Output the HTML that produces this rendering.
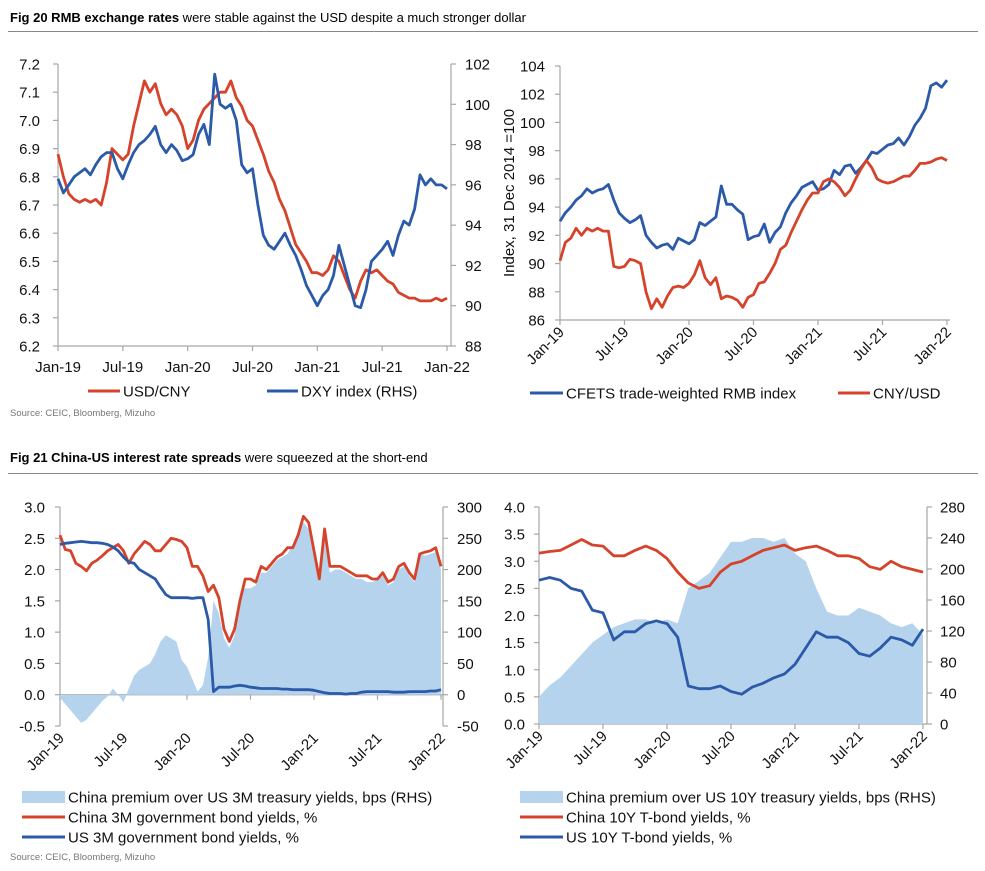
<!DOCTYPE html>
<html><head><meta charset="utf-8"><style>
body{margin:0;background:#fff}
svg{display:block;font-family:"Liberation Sans",Arial,sans-serif}
</style></head><body>
<svg id="s" width="985" height="871" viewBox="0 0 985 871">
<text x="10" y="22" font-size="13" fill="#000"><tspan font-weight="bold">Fig 20  RMB exchange rates</tspan> were stable against the USD despite a much stronger dollar</text>
<line x1="8" y1="31.5" x2="978" y2="31.5" stroke="#888" stroke-width="1"/>
<text x="10" y="416" font-size="9.5" fill="#777">Source: CEIC, Bloomberg, Mizuho</text>
<text x="10" y="462" font-size="13" fill="#000"><tspan font-weight="bold">Fig 21  China-US interest rate spreads</tspan> were squeezed at the short-end</text>
<line x1="8" y1="473.5" x2="978" y2="473.5" stroke="#888" stroke-width="1"/>
<text x="10" y="860" font-size="9.5" fill="#777">Source: CEIC, Bloomberg, Mizuho</text>
</svg>
<script>
// ---- data (t in months from Jan-19) ----
const dateLabels = ["Jan-19","Jul-19","Jan-20","Jul-20","Jan-21","Jul-21","Jan-22"];
const dateTicks = [0,6,12,18,24,30,36];
const tSemi = Array.from({length:73},(_,i)=>i*0.5);
const tMonth = Array.from({length:37},(_,i)=>i);

const usdCny = [6.88,6.80,6.74,6.72,6.71,6.72,6.71,6.72,6.70,6.78,6.90,6.88,6.86,6.88,6.98,7.06,7.14,7.10,7.13,7.06,7.02,7.04,7.02,6.98,6.90,6.93,7.00,7.04,7.06,7.08,7.10,7.10,7.14,7.08,7.05,7.00,6.98,6.93,6.88,6.82,6.78,6.72,6.68,6.62,6.56,6.53,6.50,6.46,6.46,6.45,6.47,6.52,6.50,6.45,6.40,6.37,6.43,6.47,6.46,6.47,6.45,6.43,6.42,6.39,6.38,6.37,6.37,6.36,6.36,6.36,6.37,6.36,6.37];
const dxy = [96.3,95.6,96.0,96.4,96.6,96.8,96.5,97.0,97.4,97.6,97.6,96.8,96.3,97.0,97.6,98.0,98.2,98.5,98.9,98.0,97.6,98.0,97.7,97.2,97.3,97.5,98.5,99.0,98.0,101.5,100.0,99.8,100.0,99.2,97.0,96.6,96.8,95.0,93.5,93.0,92.8,93.2,93.6,93.0,92.5,91.8,91.0,90.5,90.0,90.5,90.8,91.5,93.0,92.0,91.0,90.0,89.9,90.8,92.2,92.5,92.8,93.2,92.5,93.5,94.2,94.0,94.8,96.5,96.0,96.3,96.0,96.0,95.8];
const cfets = [93.0,93.6,94.0,94.5,94.8,95.3,95.0,95.2,95.3,95.6,94.5,93.6,93.2,92.9,93.1,93.4,92.0,91.5,91.1,91.3,91.4,91.0,91.8,91.6,91.4,91.7,92.9,92.7,93.0,93.3,95.5,94.2,94.2,93.8,93.5,91.7,91.9,92.0,92.8,91.5,92.2,92.6,93.6,94.3,94.8,95.4,95.6,95.8,95.2,95.3,95.6,96.6,96.3,96.9,97.0,96.4,96.8,97.3,97.9,97.8,98.1,98.4,98.5,98.9,98.4,99.0,99.8,100.3,101.0,102.6,102.8,102.5,103.0];
const cnyUsd = [90.2,91.5,91.8,92.5,92.0,92.5,92.3,92.5,92.3,92.3,89.8,89.7,89.8,90.3,90.2,90.0,88.0,86.8,87.5,86.9,87.7,88.3,88.4,88.3,88.6,89.2,90.2,89.0,88.5,89.0,87.5,87.7,87.6,87.4,86.9,87.6,87.8,88.6,88.7,89.3,90.0,91.0,91.3,92.2,93.0,93.8,94.5,95.0,95.0,95.8,96.0,95.8,95.4,94.8,95.2,96.0,96.7,97.3,96.8,96.0,95.8,95.7,95.8,96.0,96.2,96.2,96.6,97.1,97.1,97.2,97.4,97.5,97.3];

const prem3m = [-5,-15,-25,-35,-45,-40,-30,-20,-10,-3,10,0,-12,10,30,40,45,50,65,85,95,90,85,55,45,25,5,15,60,150,130,90,75,95,160,170,170,175,195,195,205,215,220,225,240,255,275,265,225,180,255,195,200,200,195,190,185,185,180,180,185,190,175,180,200,205,190,180,225,222,225,228,200];
const cn3m = [2.55,2.32,2.30,2.10,2.05,1.98,2.10,2.15,2.22,2.30,2.35,2.40,2.30,2.10,2.25,2.35,2.45,2.40,2.30,2.30,2.40,2.50,2.48,2.45,2.35,2.05,2.05,1.90,1.65,1.75,1.55,1.05,0.85,1.05,1.50,1.85,1.85,1.80,2.05,2.00,2.10,2.20,2.25,2.35,2.35,2.55,2.85,2.75,2.30,1.85,2.65,2.05,2.05,2.05,2.00,1.95,1.90,1.90,1.90,1.85,1.85,1.95,1.80,1.85,2.05,2.10,1.95,1.85,2.25,2.28,2.30,2.35,2.05];
const us3m = [2.40,2.42,2.43,2.44,2.45,2.44,2.43,2.43,2.42,2.40,2.36,2.30,2.20,2.12,2.10,2.00,1.95,1.90,1.85,1.72,1.60,1.55,1.55,1.55,1.55,1.54,1.55,1.55,1.20,0.05,0.12,0.12,0.12,0.14,0.15,0.14,0.12,0.11,0.10,0.10,0.10,0.10,0.09,0.09,0.08,0.08,0.08,0.08,0.07,0.05,0.03,0.02,0.02,0.02,0.01,0.02,0.02,0.04,0.05,0.05,0.05,0.05,0.05,0.04,0.04,0.04,0.05,0.05,0.05,0.05,0.06,0.06,0.08];

const prem10y = [35,50,60,75,90,105,115,125,130,135,135,130,135,130,175,185,195,215,235,235,240,240,235,240,220,210,175,145,140,140,150,145,140,130,125,130,115];
const cn10y = [3.15,3.18,3.2,3.3,3.4,3.3,3.28,3.1,3.1,3.2,3.28,3.2,3.05,2.8,2.6,2.5,2.55,2.8,2.95,3.0,3.1,3.2,3.25,3.3,3.2,3.25,3.28,3.2,3.1,3.1,3.05,2.9,2.85,3.0,2.9,2.85,2.8];
const us10y = [2.65,2.7,2.65,2.5,2.45,2.1,2.05,1.55,1.7,1.7,1.85,1.9,1.85,1.6,0.7,0.65,0.65,0.7,0.6,0.55,0.68,0.75,0.85,0.92,1.1,1.4,1.7,1.6,1.6,1.5,1.3,1.25,1.4,1.6,1.55,1.45,1.75];

const RED="#d6432b", BLUE="#2b5aa8", AREA="#b5d3ec", AX="#a6a6a6";
const svg=document.getElementById('s');
const NS="http://www.w3.org/2000/svg";
function el(tag,attrs){const e=document.createElementNS(NS,tag);for(const k in attrs)e.setAttribute(k,attrs[k]);svg.appendChild(e);return e;}

function panel(p){
  const sx=t=>p.x0+(t/36)*(p.x1-p.x0);
  const sy=v=>p.yB-(v-p.lmin)/(p.lmax-p.lmin)*(p.yB-p.yT);
  const sr=v=>p.yB-(v-p.rmin)/(p.rmax-p.rmin)*(p.yB-p.yT);
  p.sx=sx;p.sy=sy;p.sr=sr;
  let a=el('line',{x1:p.x0,y1:p.yT,x2:p.x0,y2:p.yB,stroke:AX,'stroke-width':1.2});
  
  
  for(let v=p.lmin;v<=p.lmax+1e-9;v+=p.lstep){
    const y=sy(v);
    const tk=el('line',{x1:p.x0-5,y1:y,x2:p.x0,y2:y,stroke:AX,'stroke-width':1.2});
    
    
    const tx=el('text',{x:p.lx,y:y+5.5,'font-size':15,'text-anchor':'end',fill:'#111'});
    tx.textContent=v.toFixed(p.ldec);
    
    
  }
  if(p.rx!==undefined){
    let r=el('line',{x1:p.rax,y1:p.yT,x2:p.rax,y2:p.yB,stroke:AX,'stroke-width':1.2});
    
    
    for(let v=p.rmin;v<=p.rmax+1e-9;v+=p.rstep){
      const y=sr(v);
      const tk=el('line',{x1:p.rax,y1:y,x2:p.rax+5,y2:y,stroke:AX,'stroke-width':1.2});
      
      
      const tx=el('text',{x:p.rx,y:y+5.5,'font-size':15,fill:'#111'});
      tx.textContent=String(Math.round(v));
      
      
    }
  }
  const base=p.zeroLine?sy(0):p.yB;
  let b=el('line',{x1:p.x0,y1:base,x2:p.bx1,y2:base,stroke:AX,'stroke-width':1.2});
  
  
  dateTicks.forEach((t,i)=>{
    const x=sx(t);
    const tk=el('line',{x1:x,y1:base,x2:x,y2:base+5,stroke:AX,'stroke-width':1.2});
    
    
    let tx;
    if(p.rot){
      tx=el('text',{x:x+5,y:p.yB+13,'font-size':15,'text-anchor':'end',fill:'#111',transform:`rotate(-45 ${x+5} ${p.yB+13})`});
    }else{
      tx=el('text',{x:x,y:p.yB+26,'font-size':15,'text-anchor':'middle',fill:'#111'});
    }
    tx.textContent=dateLabels[i];
    
    
  });
}
function line(p,ts,vs,scale,color,name){
  const d=vs.map((v,i)=>(i?'L':'M')+p.sx(ts[i]).toFixed(1)+' '+scale(v).toFixed(1)).join(' ');
  const e=el('path',{d:d,fill:'none',stroke:color,'stroke-width':2.8,'stroke-linejoin':'round'});
  
  
}
function area(p,ts,vs,name){
  const z=p.sr(0);
  let d='M'+p.sx(ts[0]).toFixed(1)+' '+z.toFixed(1);
  vs.forEach((v,i)=>{d+=' L'+p.sx(ts[i]).toFixed(1)+' '+p.sr(v).toFixed(1);});
  d+=' L'+p.sx(ts[ts.length-1]).toFixed(1)+' '+z.toFixed(1)+' Z';
  const e=el('path',{d:d,fill:AREA,stroke:'none'});
  
  
}
function legLine(x1,x2,y,color,label,name){
  const l=el('line',{x1:x1,y1:y,x2:x2,y2:y,stroke:color,'stroke-width':3});
  
  
  const t=el('text',{x:x2+3,y:y+5.5,'font-size':15,fill:'#111'});
  t.textContent=label;
  
  
}
function legBox(x1,x2,y,label,name){
  const r=el('rect',{x:x1,y:y-6,width:x2-x1,height:12,fill:AREA});
  
  
  const t=el('text',{x:x2+3,y:y+5.5,'font-size':15,fill:'#111'});
  t.textContent=label;
  
  
}

const p1={id:'usdcny-panel',x0:58,x1:447,bx1:451,yT:64,yB:346,lmin:6.2,lmax:7.2,lstep:0.1,ldec:1,lx:40,rmin:88,rmax:102,rstep:2,rx:465,rax:451,rot:false};
panel(p1);
line(p1,tSemi,usdCny,p1.sy,RED,'usdcny-line');
line(p1,tSemi,dxy,p1.sr,BLUE,'dxy-line');
legLine(88,120,391,RED,'USD/CNY','legend-usdcny');
legLine(267,298,391,BLUE,'DXY index (RHS)','legend-dxy');

const p2={id:'cfets-panel',x0:560,x1:947,bx1:950,yT:66,yB:320,lmin:86,lmax:104,lstep:2,ldec:0,lx:545,rot:true};
panel(p2);
line(p2,tSemi,cfets,p2.sy,BLUE,'cfets-line');
line(p2,tSemi,cnyUsd,p2.sy,RED,'cnyusd-line');
const yt=el('text',{x:0,y:0,'font-size':15,'text-anchor':'middle',fill:'#111',transform:'translate(514 193) rotate(-90)'});
yt.textContent='Index, 31 Dec 2014 =100';


legLine(530,563,393,BLUE,'CFETS trade-weighted RMB index','legend-cfets');
legLine(838,870,393,RED,'CNY/USD','legend-cnyusd');

const p3={id:'spread3m-panel',x0:60,x1:441,bx1:443,yT:507,yB:726,lmin:-0.5,lmax:3.0,lstep:0.5,ldec:1,lx:45,rmin:-50,rmax:300,rstep:50,rx:457,rax:443,rot:true,zeroLine:true};
panel(p3);
area(p3,tSemi,prem3m,'premium-3m-area');
line(p3,tSemi,cn3m,p3.sy,RED,'china-3m-line');
line(p3,tSemi,us3m,p3.sy,BLUE,'us-3m-line');
legBox(22,65,797,'China premium over US 3M treasury yields, bps (RHS)','legend-premium-3m');
legLine(22,65,817,RED,'China 3M government bond yields, %','legend-china-3m');
legLine(22,65,837,BLUE,'US 3M government bond yields, %','legend-us-3m');

const p4={id:'spread10y-panel',x0:539,x1:923,bx1:927,yT:507,yB:724,lmin:0,lmax:4.0,lstep:0.5,ldec:1,lx:525,rmin:0,rmax:280,rstep:40,rx:940,rax:927,rot:true};
panel(p4);
area(p4,tMonth,prem10y,'premium-10y-area');
line(p4,tMonth,cn10y,p4.sy,RED,'china-10y-line');
line(p4,tMonth,us10y,p4.sy,BLUE,'us-10y-line');
legBox(520,563,797,'China premium over US 10Y treasury yields, bps (RHS)','legend-premium-10y');
legLine(520,563,817,RED,'China 10Y T-bond yields, %','legend-china-10y');
legLine(520,563,837,BLUE,'US 10Y T-bond yields, %','legend-us-10y');
</script>
</body></html>
